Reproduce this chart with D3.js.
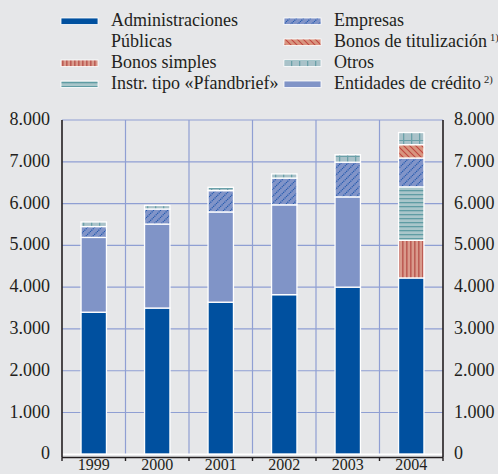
<!DOCTYPE html>
<html>
<head>
<meta charset="utf-8">
<script src="https://cdn.jsdelivr.net/npm/d3@7/dist/d3.min.js"></script>
<style>
  html, body { margin: 0; padding: 0; background: #e6e7e9; }
  svg { display: block; }
  text { font-family: "Liberation Serif", "Times New Roman", serif; fill: #231f20; }
</style>
</head>
<body>
<svg id="chart" width="498" height="474"></svg>
<script>
// Years on the horizontal axis
const years = ["1999", "2000", "2001", "2002", "2003", "2004"];

// Outstanding amounts per issuer / instrument (stacked bottom to top)
const administraciones = [3400, 3500, 3640, 3820, 4000, 4220];
const bonosSimples     = [0, 0, 0, 0, 0, 900];
const pfandbrief       = [0, 0, 0, 0, 0, 1280];
const entidades        = [1790, 2010, 2160, 2150, 2160, 0];
const empresas         = [260, 360, 510, 640, 830, 690];
const titulizacion     = [0, 0, 0, 0, 0, 320];
const otros            = [110, 85, 80, 100, 180, 290];

// Axis ticks
const yTicks = [0, 1000, 2000, 3000, 4000, 5000, 6000, 7000, 8000];

const seriesKeys = ["adm", "simples", "pfand", "ent", "emp", "tit", "otros"];
const seriesData = {
  adm: administraciones, simples: bonosSimples, pfand: pfandbrief,
  ent: entidades, emp: empresas, tit: titulizacion, otros: otros
};

const table = years.map((y, i) => {
  const row = { year: y };
  seriesKeys.forEach(k => { row[k] = seriesData[k][i]; });
  return row;
});

const svg = d3.select("#chart");
const defs = svg.append("defs");

// Fill patterns
function hatch(id, bg, size, draw) {
  const p = defs.append("pattern").attr("id", id)
    .attr("patternUnits", "userSpaceOnUse").attr("width", size).attr("height", size);
  p.append("rect").attr("width", size).attr("height", size).attr("fill", bg);
  draw(p);
}
hatch("p-emp", "#8194c8", 7, p => {
  p.append("path").attr("d", "M-1,8 L8,-1 M-1,1 L1,-1 M6,8 L8,6")
    .attr("stroke", "#1f57ad").attr("stroke-width", 1.2).attr("stroke-dasharray", "1.2,0.8");
});
hatch("p-tit", "#d8957f", 6, p => {
  p.append("path").attr("d", "M-1,-1 L7,7 M5,-1 L7,1 M-1,5 L1,7")
    .attr("stroke", "#c0453f").attr("stroke-width", 1.1);
});
hatch("p-simples", "#d99a8c", 4, p => {
  p.append("rect").attr("x", 2).attr("y", 0).attr("width", 1.6).attr("height", 4).attr("fill", "#bd5d55");
});
hatch("p-pfand", "#a9c6ca", 4, p => {
  p.append("rect").attr("x", 0).attr("y", 2).attr("width", 4).attr("height", 1.3).attr("fill", "#5f9ca3");
});
hatch("p-otros", "#a9c2c9", 8, p => {
  p.append("rect").attr("x", 0).attr("y", 4).attr("width", 8).attr("height", 1).attr("fill", "#6aa0a8");
  p.append("rect").attr("x", 3).attr("y", 0).attr("width", 1.3).attr("height", 8).attr("fill", "#6aa0a8");
});

const fills = {
  adm: "#00509f", simples: "url(#p-simples)", pfand: "url(#p-pfand)",
  ent: "#8094c7", emp: "url(#p-emp)", tit: "url(#p-tit)", otros: "url(#p-otros)"
};

// Scales
const x = d3.scaleBand().domain(years).range([62, 443]).paddingInner(0.6).paddingOuter(0.3);
const y = d3.scaleLinear().domain([0, 8000]).range([454.3, 120]);
const x0 = 62, x1 = 443;

// Grid
const grid = svg.append("g");
grid.selectAll("line.h").data(yTicks.filter(t => t > 0)).join("line")
  .attr("x1", x0).attr("x2", x1).attr("y1", d => y(d)).attr("y2", d => y(d))
  .attr("stroke", "#8f9fd3").attr("stroke-width", 1.2);
const bounds = d3.range(1, years.length).map(i => x0 + i * (x1 - x0) / years.length);
grid.selectAll("line.v").data(bounds).join("line")
  .attr("x1", d => d).attr("x2", d => d).attr("y1", y(8000)).attr("y2", y(0))
  .attr("stroke", "#8f9fd3").attr("stroke-width", 1.2);

// Stacked bars
const stack = d3.stack().keys(seriesKeys)(table);
const bars = svg.append("g");
stack.forEach(layer => {
  bars.selectAll(null).data(layer.filter(d => d[1] - d[0] > 0)).join("rect")
    .attr("x", d => x(d.data.year))
    .attr("width", x.bandwidth())
    .attr("y", d => y(d[1]))
    .attr("height", d => y(d[0]) - y(d[1]))
    .attr("fill", fills[layer.key])
    .attr("stroke", "#ffffff").attr("stroke-width", 1.3);
});

// Zero line
svg.append("line").attr("x1", x0).attr("x2", x1).attr("y1", y(0)).attr("y2", y(0))
  .attr("stroke", "#ffffff").attr("stroke-width", 1.5);

// Axes frame
svg.append("line").attr("x1", x0).attr("x2", x0).attr("y1", y(8000)).attr("y2", 457.5)
  .attr("stroke", "#231f20").attr("stroke-width", 1.6);
svg.append("line").attr("x1", x1).attr("x2", x1).attr("y1", y(8000)).attr("y2", 457.5)
  .attr("stroke", "#231f20").attr("stroke-width", 1.6);
svg.append("line").attr("x1", x0).attr("x2", x1).attr("y1", 457.5).attr("y2", 457.5)
  .attr("stroke", "#231f20").attr("stroke-width", 1.4);
svg.selectAll("line.tk").data([x0, ...bounds, x1]).join("line")
  .attr("x1", d => d).attr("x2", d => d).attr("y1", 457.5).attr("y2", 461)
  .attr("stroke", "#231f20").attr("stroke-width", 1.4);

// Tick labels
const fmt = d => d === 0 ? "0" : d3.format(",")(d).replace(/,/g, ".");
svg.selectAll("text.yl").data(yTicks).join("text")
  .attr("x", 50).attr("y", d => y(d)).attr("dy", "0.28em")
  .attr("text-anchor", "end").attr("font-size", 18).text(fmt);
svg.selectAll("text.yr").data(yTicks).join("text")
  .attr("x", 454).attr("y", d => y(d)).attr("dy", "0.28em")
  .attr("text-anchor", "start").attr("font-size", 18).text(fmt);
svg.selectAll("text.xl").data(years).join("text")
  .attr("x", d => x(d) + x.bandwidth() / 2).attr("y", 470)
  .attr("text-anchor", "middle").attr("font-size", 16).text(d => d);

// Legend
const legend = [
  { key: "adm", col: 0, row: 0, label: "Administraciones" },
  { key: null, col: 0, row: 1, label: "Públicas" },
  { key: "simples", col: 0, row: 2, label: "Bonos simples" },
  { key: "pfand", col: 0, row: 3, label: "Instr. tipo «Pfandbrief»" },
  { key: "emp", col: 1, row: 0, label: "Empresas" },
  { key: "tit", col: 1, row: 1, label: "Bonos de titulización", sup: "1)" },
  { key: "otros", col: 1, row: 2, label: "Otros" },
  { key: "ent", col: 1, row: 3, label: "Entidades de crédito", sup: "2)" }
];
const colX = [61, 284], rowY = [26, 47, 68, 89];
const lg = svg.append("g");
legend.forEach(d => {
  const gx = colX[d.col], gy = rowY[d.row];
  if (d.key) {
    lg.append("rect").attr("x", gx).attr("y", gy - 8).attr("width", 37).attr("height", 6.5)
      .attr("fill", fills[d.key]).attr("stroke", "#ffffff").attr("stroke-width", 0.8);
  }
  const t = lg.append("text").attr("x", gx + 50).attr("y", gy).attr("font-size", 18).text(d.label);
  if (d.sup) {
    t.append("tspan").attr("dx", 3).attr("dy", -6).attr("font-size", 10.5).text(d.sup);
  }
});
</script>
</body>
</html>
